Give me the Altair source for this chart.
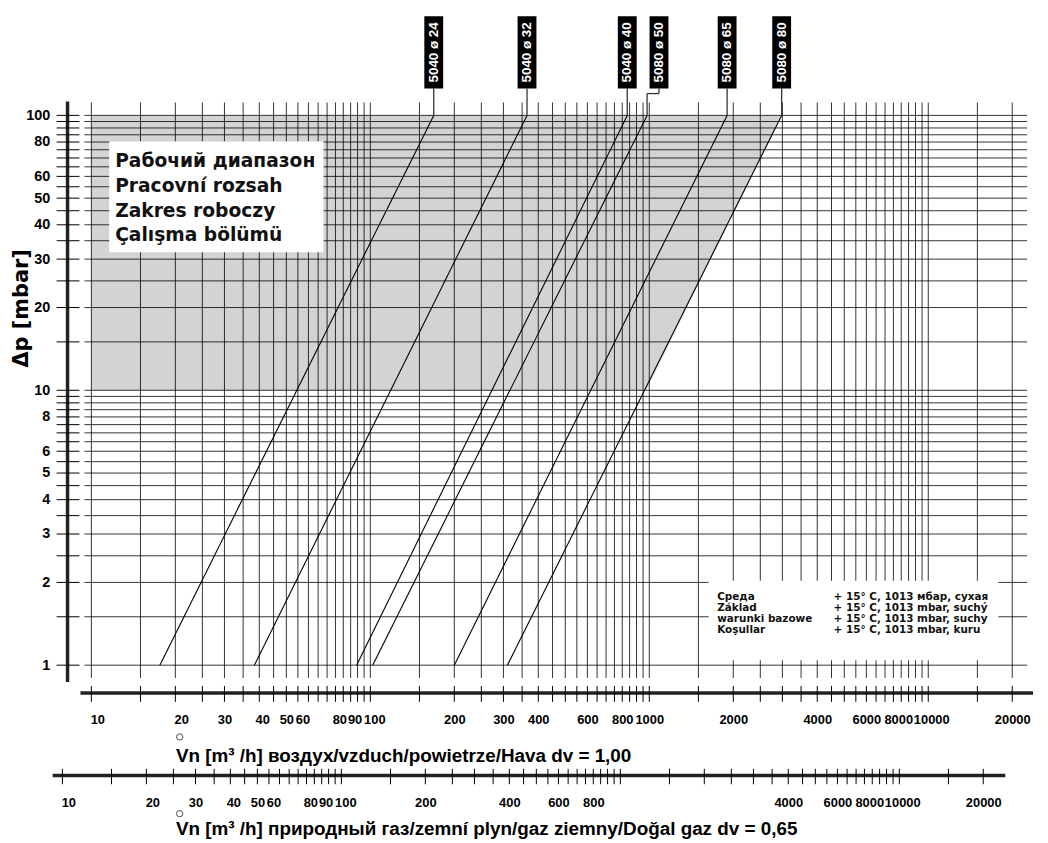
import math
import altair as alt
import pandas as pd

# ---------------- data ----------------
MODELS = ["5040 ø 24", "5040 ø 32", "5040 ø 40", "5080 ø 50", "5080 ø 65", "5080 ø 80"]
Q_AT_1MBAR = [17.6, 38.4, 89.3, 102.0, 200.0, 310.0]        # m3/h air at dp = 1 mbar
Q_AT_100MBAR = [168.8, 364.5, 833.7, 982.0, 1901.0, 2982.0]  # m3/h air at dp = 100 mbar
LINE_P = [1, 100]

GRID_MANTISSA = [1, 1.5, 2, 2.5, 3, 3.5, 4, 4.5, 5, 5.5, 6, 6.5, 7, 7.5, 8, 8.5, 9, 9.5]
X_GRID_DECADES = [10, 100, 1000]
X_GRID_TAIL = [10000, 15000, 20000]
Y_GRID_DECADES = [1, 10]
Y_GRID_TAIL = [100]

AIR_LABELS = [10, 20, 30, 40, 50, 60, 80, 90, 100, 200, 300, 400, 600, 800, 1000,
              2000, 4000, 6000, 8000, 10000, 20000]
GAS_LABELS = [10, 20, 30, 40, 50, 60, 80, 90, 100, 200, 400, 600, 800,
              4000, 6000, 8000, 10000, 20000]
Y_LABELS = [1, 2, 3, 4, 5, 6, 8, 10, 20, 30, 40, 50, 60, 80, 100]

GAS_SHIFT = 1.27  # natural-gas scale vs. air scale

WORK_P = [10, 100]
WORK_Q_LEFT = [10, 10]
WORK_Q_RIGHT = [975, 2982]

WORK_TEXT = ["Рабочий диапазон", "Pracovní rozsah", "Zakres roboczy", "Çalışma bölümü"]
COND_NAMES = ["Среда", "Základ", "warunki bazowe", "Koşullar"]
COND_VALUES = ["+ 15° C, 1013 мбар, сухая", "+ 15° C, 1013 mbar, suchý",
               "+ 15° C, 1013 mbar, suchy", "+ 15° C, 1013 mbar, kuru"]

AIR_TITLE = "Vn [m³ /h]  воздух/vzduch/powietrze/Hava dv = 1,00"
GAS_TITLE = "Vn [m³ /h] природный газ/zemní plyn/gaz ziemny/Doğal gaz dv = 0,65"
Y_TITLE = "Δp [mbar]"

FONT = "Liberation Sans"
BOXFONT = "DejaVu Sans"

# ---------------- tables ----------------
x_ticks = [m * d for d in X_GRID_DECADES for m in GRID_MANTISSA] + X_GRID_TAIL
y_ticks = [m * d for d in Y_GRID_DECADES for m in GRID_MANTISSA] + Y_GRID_TAIL

lines_df = pd.DataFrame(
    [{"model": m, "p": LINE_P[0], "q": q1} for m, q1 in zip(MODELS, Q_AT_1MBAR)]
    + [{"model": m, "p": LINE_P[1], "q": q2} for m, q2 in zip(MODELS, Q_AT_100MBAR)]
)
labels_df = pd.DataFrame({"model": MODELS, "qtop": Q_AT_100MBAR, "ptop": [LINE_P[1]] * len(MODELS)})
lab_main = labels_df[labels_df.model != "5080 ø 50"]
lab_jog = labels_df[labels_df.model == "5080 ø 50"]
work_df = pd.DataFrame({"p": WORK_P, "left": WORK_Q_LEFT, "right": WORK_Q_RIGHT})
xgrid_df = pd.DataFrame({"q": x_ticks})
ygrid_df = pd.DataFrame({"p": y_ticks})
one = pd.DataFrame({"k": [0]})

# ---------------- layout (pixels inside the plot area) ----------------
W, H = 950, 580
X10, DEC = 7.0, 281.13          # pixel of 10 m3/h air, pixels per decade
XMIN = 10 * 10 ** (-X10 / DEC)
XMAX = 10 * 10 ** ((W - X10) / DEC)
xs = alt.Scale(type="log", domain=[XMIN, XMAX], nice=False)
ys = alt.Scale(type="log", domain=[0.8978, 111.4], nice=False)
G0 = 8.0
gs = alt.Scale(type="log", domain=[G0, XMAX * GAS_SHIFT], nice=False,
               range=[X10 + DEC * math.log10(G0 / (10 * GAS_SHIFT)), W])


def lab_expr(lst):
    return "indexof([" + ",".join(str(v) for v in lst) + "], datum.value) >= 0 ? '' + datum.value : ''"


# small shifts of the printed labels relative to their ticks (as in the print)
label_shift = {
    "condition": [
        {"test": "datum.value == 10", "value": 6},
        {"test": "datum.value == 20", "value": 6},
        {"test": "datum.value == 40", "value": 3},
        {"test": "datum.value == 60", "value": -6},
        {"test": "datum.value == 80", "value": -4},
        {"test": "datum.value == 90", "value": -3},
        {"test": "datum.value == 100", "value": 4},
        {"test": "datum.value == 8000", "value": -3},
        {"test": "datum.value == 10000", "value": 3},
    ],
    "value": 0,
}

common = dict(labelFont=FONT, labelFontWeight="bold", labelColor="black",
              labelOverlap=False, labelFlush=False, labelBound=False,
              titleFontWeight="bold", titleColor="black",
              grid=False, ticks=False, tickSize=0, domain=False)

air_axis = alt.Axis(values=x_ticks, labelExpr=lab_expr(AIR_LABELS), offset=30, labelPadding=6,
                    labelFontSize=13, labelOffset=label_shift,
                    title=AIR_TITLE, titleFont=FONT, titleFontSize=19, titleX=91.7, titleY=48.3,
                    titleAlign="left", titleBaseline="middle", orient="bottom", **common)
gas_axis = alt.Axis(values=x_ticks, labelExpr=lab_expr(GAS_LABELS), offset=115, labelPadding=4.4,
                    labelFontSize=13, labelOffset=label_shift,
                    title=GAS_TITLE, titleFont=FONT, titleFontSize=19, titleX=91.7, titleY=36.7,
                    titleAlign="left", titleBaseline="middle", orient="bottom", **common)
y_axis = alt.Axis(values=y_ticks, labelExpr=lab_expr(Y_LABELS), offset=0, labelPadding=35,
                  labelFontSize=14.5, title=Y_TITLE, titleFont=BOXFONT, titleFontSize=21,
                  titleX=-63, titleY=207,
                  titleAngle=270, titleAlign="center", titleBaseline="middle", orient="left",
                  **common)

# gray working range
gray = alt.Chart(work_df).mark_area(orient="horizontal", color="#d3d3d3").encode(
    y=alt.Y("p:Q", scale=ys, axis=None),
    x=alt.X("left:Q", scale=xs, axis=None),
    x2="right:Q",
)
vgrid = alt.Chart(xgrid_df).mark_rule(color="black", strokeWidth=0.8).encode(
    x=alt.X("q:Q", scale=xs, axis=air_axis))
hgrid = alt.Chart(ygrid_df).mark_rule(color="black", strokeWidth=0.8).encode(
    y=alt.Y("p:Q", scale=ys, axis=y_axis))

box1 = alt.Chart(one).mark_rect(fill="white").encode(
    x=alt.value(25), x2=alt.value(241), y=alt.value(39), y2=alt.value(151))
box1_txt = alt.Chart(one).mark_text(align="left", baseline="alphabetic", font=BOXFONT, fontSize=18.8,
                                    fontWeight="bold", lineHeight=25, color="#111").encode(
    x=alt.value(31), y=alt.value(65), text=alt.value(WORK_TEXT))

box2 = alt.Chart(one).mark_rect(fill="white").encode(
    x=alt.value(629), x2=alt.value(921), y=alt.value(482), y2=alt.value(562))
box2_a = alt.Chart(one).mark_text(align="left", baseline="alphabetic", font=BOXFONT, fontSize=10.5,
                                  fontWeight="bold", lineHeight=11.3, color="#111").encode(
    x=alt.value(637.7), y=alt.value(501), text=alt.value(COND_NAMES))
box2_b = alt.Chart(one).mark_text(align="left", baseline="alphabetic", font=BOXFONT, fontSize=10.5,
                                  fontWeight="bold", lineHeight=11.3, color="#111").encode(
    x=alt.value(755), y=alt.value(501), text=alt.value(COND_VALUES))

diag = alt.Chart(lines_df).mark_line(color="black", strokeWidth=1.1).encode(
    x=alt.X("q:Q", scale=xs, axis=None), y=alt.Y("p:Q", scale=ys, axis=None), detail="model:N")

# label connectors
conn = alt.Chart(lab_main).mark_rule(color="#333", strokeWidth=1.3).encode(
    x=alt.X("qtop:Q", scale=xs, axis=None), y=alt.Y("ptop:Q", scale=ys, axis=None), y2=alt.value(-14))
conn_j1 = alt.Chart(lab_jog).mark_rule(color="#333", strokeWidth=1.3).encode(
    x=alt.X("qtop:Q", scale=xs, axis=None), y=alt.Y("ptop:Q", scale=ys, axis=None), y2=alt.value(-9))
conn_j2 = alt.Chart(lab_jog).mark_rule(color="#333", strokeWidth=1.3, x2Offset=12).encode(
    x=alt.X("qtop:Q", scale=xs, axis=None), x2="qtop:Q", y=alt.value(-9))
conn_j3 = alt.Chart(lab_jog).mark_rule(color="#333", strokeWidth=1.3, xOffset=12).encode(
    x=alt.X("qtop:Q", scale=xs, axis=None), y=alt.value(-14), y2=alt.value(-9))

tag = alt.Chart(lab_main).mark_rect(color="black", xOffset=-9.5, x2Offset=9.5).encode(
    x=alt.X("qtop:Q", scale=xs, axis=None), x2="qtop:Q", y=alt.value(-87), y2=alt.value(-14))
tag_j = alt.Chart(lab_jog).mark_rect(color="black", xOffset=12 - 9.5, x2Offset=12 + 9.5).encode(
    x=alt.X("qtop:Q", scale=xs, axis=None), x2="qtop:Q", y=alt.value(-87), y2=alt.value(-14))
tag_txt = alt.Chart(lab_main).mark_text(angle=270, color="white", font=FONT, fontSize=13.5,
                                        fontWeight="bold", align="center", baseline="middle").encode(
    x=alt.X("qtop:Q", scale=xs, axis=None), y=alt.value(-50.5), text="model:N")
tag_txt_j = alt.Chart(lab_jog).mark_text(angle=270, color="white", font=FONT, fontSize=13.5,
                                         fontWeight="bold", align="center", baseline="middle",
                                         xOffset=12).encode(
    x=alt.X("qtop:Q", scale=xs, axis=None), y=alt.value(-50.5), text="model:N")

# left axis line and ticks
y_line = alt.Chart(one).mark_rule(color="#222", strokeWidth=3.5).encode(
    x=alt.value(-17), y=alt.value(-1), y2=alt.value(584))
y_tk = alt.Chart(ygrid_df).mark_rule(color="black", strokeWidth=1).encode(
    y=alt.Y("p:Q", scale=ys, axis=None), x=alt.value(-28), x2=alt.value(-5))

# air axis line and ticks
air_line = alt.Chart(one).mark_rule(color="#222", strokeWidth=3.5).encode(
    x=alt.value(-4), x2=alt.value(956), y=alt.value(595))
air_tk = alt.Chart(xgrid_df).mark_rule(color="black", strokeWidth=1).encode(
    x=alt.X("q:Q", scale=xs, axis=None), y=alt.value(588), y2=alt.value(604))

# gas axis line and ticks
gas_line = alt.Chart(one).mark_rule(color="#222", strokeWidth=3.5).encode(
    x=alt.value(-32), x2=alt.value(928), y=alt.value(678.3))
gas_tk = alt.Chart(xgrid_df).mark_rule(color="black", strokeWidth=1).encode(
    x=alt.X("q:Q", scale=gs, axis=gas_axis), y=alt.value(671.5), y2=alt.value(687))

ring1 = alt.Chart(one).mark_point(shape="circle", filled=False, color="black", size=40,
                                  strokeWidth=1).encode(x=alt.value(96), y=alt.value(639.3))
ring2 = alt.Chart(one).mark_point(shape="circle", filled=False, color="black", size=40,
                                  strokeWidth=1).encode(x=alt.value(96), y=alt.value(716.7))

chart = alt.layer(
    gray, vgrid, hgrid, box1, box1_txt, box2, box2_a, box2_b, diag,
    conn, conn_j1, conn_j2, conn_j3, tag, tag_j, tag_txt, tag_txt_j,
    y_line, y_tk, air_line, air_tk, gas_line, gas_tk, ring1, ring2,
).resolve_scale(x="independent", y="independent").properties(
    width=W, height=H,
    autosize=alt.AutoSizeParams(type="none"),
    padding={"left": 77, "top": 92, "right": 13, "bottom": 163},
    background="white",
).configure_view(stroke=None)

chart.save("out.html", embed_options={"renderer": "svg", "actions": False})
